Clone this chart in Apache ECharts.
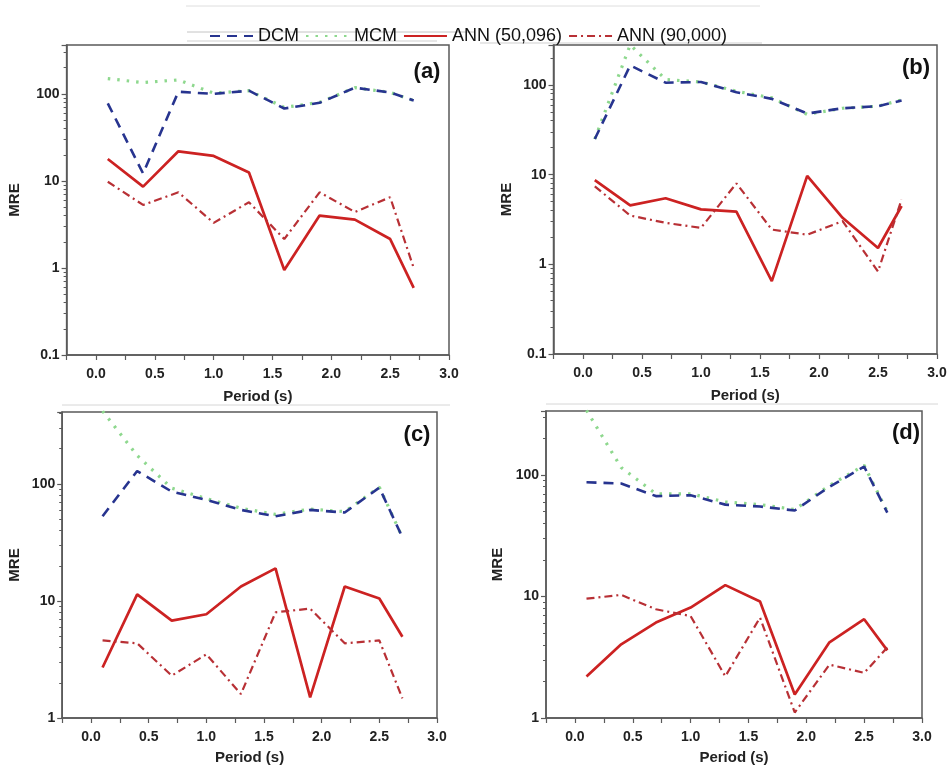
<!DOCTYPE html>
<html><head><meta charset="utf-8">
<script src="https://cdn.jsdelivr.net/npm/echarts@6/dist/echarts.min.js"></script>
<style>html,body{margin:0;padding:0;background:#fff}#c{width:950px;height:770px}</style>
</head><body><div id="c"></div><script>
// ---- data ----
const periods = [0.1, 0.4, 0.7, 1.0, 1.3, 1.6, 1.9, 2.2, 2.5, 2.7];
const seriesNames = ['DCM', 'MCM', 'ANN (50,096)', 'ANN (90,000)'];
const xTickLabels = ['0.0', '0.5', '1.0', '1.5', '2.0', '2.5', '3.0'];
const panelLabels = ['(a)', '(b)', '(c)', '(d)'];

const a_DCM  = [78, 12.2, 106, 100, 109, 68, 79, 118, 104, 84];
const a_MCM  = [150, 135, 145, 102, 109, 70, 80, 118, 104, 84];
const a_ANN1 = [17.9, 8.6, 21.9, 19.4, 12.5, 0.95, 4.0, 3.6, 2.15, 0.59];
const a_ANN2 = [9.8, 5.3, 7.4, 3.3, 5.7, 2.15, 7.4, 4.4, 6.5, 1.0];

const b_DCM  = [25, 165, 106, 108, 83, 70, 48, 55, 58, 67];
const b_MCM  = [25, 280, 115, 108, 85, 72, 47, 55, 58, 68];
const b_ANN1 = [8.7, 4.55, 5.45, 4.1, 3.86, 0.65, 9.7, 3.3, 1.52, 4.47];
const b_ANN2 = [7.4, 3.5, 2.9, 2.55, 8.0, 2.44, 2.14, 3.03, 0.83, 5.3];

const c_DCM  = [53, 129, 86, 73, 60, 53, 60, 57, 93, 35];
const c_MCM  = [420, 175, 92, 75, 62, 55, 61, 58, 94, 35];
const c_ANN1 = [2.7, 11.4, 6.8, 7.7, 13.3, 19, 1.5, 13.3, 10.5, 4.95];
const c_ANN2 = [4.6, 4.35, 2.3, 3.5, 1.6, 8.0, 8.6, 4.35, 4.6, 1.47];

const d_DCM  = [87, 85, 67, 68, 57, 55, 51, 80, 117, 49];
const d_MCM  = [340, 115, 70, 70, 60, 57, 52, 82, 120, 50];
const d_ANN1 = [2.2, 4.04, 6.1, 8.1, 12.4, 9.1, 1.56, 4.2, 6.5, 3.6];
const d_ANN2 = [9.6, 10.3, 7.85, 6.9, 2.2, 6.7, 1.11, 2.75, 2.35, 3.8];

// ---- layout ----
const panels = [
  {vals:[a_DCM, a_MCM, a_ANN1, a_ANN2], yMin:0.1, yMax:365, grid:{left:66.6, top:45, width:382.4, height:310}, yGap:44, xGap:34, lab:[427, 72]},
  {vals:[b_DCM, b_MCM, b_ANN1, b_ANN2], yMin:0.1, yMax:279, grid:{left:553.5, top:45, width:383.5, height:309}, yGap:39, xGap:34, lab:[916, 68]},
  {vals:[c_DCM, c_MCM, c_ANN1, c_ANN2], yMin:1, yMax:412, grid:{left:62.2, top:412, width:374.8, height:306}, yGap:40, xGap:32, lab:[417, 435]},
  {vals:[d_DCM, d_MCM, d_ANN1, d_ANN2], yMin:1, yMax:336, grid:{left:546, top:411, width:376, height:307}, yGap:40.5, xGap:32, lab:[906, 433]}
];

const styles = [
  {color:'#27348f', width:2.6, type:[10, 7], z:4},
  {color:'#8ed88e', width:3.2, type:[2.5, 7], z:3},
  {color:'#cc2222', width:2.7, type:'solid', z:5},
  {color:'#b83035', width:2.2, type:[8, 4, 2, 4], z:5}
];

const FONT = '"Liberation Sans", Arial, sans-serif';
const axisColor = '#5a5a5a';

const grids = [], xAxes = [], yAxes = [], series = [], graphics = [];
panels.forEach((p, i) => {
  grids.push(Object.assign({show:true, borderColor:axisColor, borderWidth:1.5, backgroundColor:'transparent'}, p.grid));
  xAxes.push({
    type:'value', gridIndex:i, min:-0.25, max:3.0, interval:0.25,
    name:'Period (s)', nameLocation:'middle', nameGap:p.xGap,
    nameTextStyle:{fontFamily:FONT, fontWeight:'bold', fontSize:15, color:'#222'},
    axisLine:{show:true, onZero:false, lineStyle:{color:axisColor, width:1.5}},
    axisTick:{show:true, inside:false, length:5, lineStyle:{color:axisColor, width:1.2}},
    splitLine:{show:false},
    axisLabel:{margin:12, fontFamily:FONT, fontWeight:'bold', fontSize:14, color:'#222',
      formatter:v => { const k = Math.round(v * 2); return (Math.abs(v * 2 - k) < 1e-6 && k >= 0) ? xTickLabels[k] : ''; }}
  });
  yAxes.push({
    type:'log', logBase:10, gridIndex:i, min:p.yMin, max:p.yMax,
    name:'MRE', nameLocation:'middle', nameGap:p.yGap, nameRotate:90,
    nameTextStyle:{fontFamily:FONT, fontWeight:'bold', fontSize:15, color:'#222'},
    axisLine:{show:true, onZero:false, lineStyle:{color:axisColor, width:1.5}},
    axisTick:{show:true, inside:false, length:5, lineStyle:{color:axisColor, width:1.2}},
    minorTick:{show:true, splitNumber:9, length:3, lineStyle:{color:axisColor, width:1}},
    splitLine:{show:false},
    axisLabel:{margin:7, fontFamily:FONT, fontWeight:'bold', fontSize:14, color:'#222', showMaxLabel:false,
      formatter:v => { const l = Math.log10(v); return Math.abs(l - Math.round(l)) < 1e-6 ? String(+v.toPrecision(3)) : ''; }}
  });
  p.vals.forEach((vals, s) => {
    const st = styles[s];
    series.push({
      name:seriesNames[s], type:'line', xAxisIndex:i, yAxisIndex:i,
      data:periods.map((x, k) => [x, vals[k]]),
      symbol:'none', smooth:false, z:st.z,
      lineStyle:{color:st.color, width:st.width, type:st.type, cap:'butt'},
      itemStyle:{color:st.color}
    });
  });
  graphics.push({type:'text', x:p.lab[0], y:p.lab[1], z:10,
    style:{text:panelLabels[i], fill:'#111', font:'bold 22px ' + FONT, textAlign:'center', textVerticalAlign:'middle'}});
});

// faint frame lines around the legend area and between panels
const frameLines = [
  [186, 6, 760, 6, '#dedede'],
  [187, 32, 475, 32, '#c4c4c4'],
  [187, 41, 437, 41, '#cfcfcf'],
  [480, 43, 762, 43, '#cfcfcf'],
  [62, 405, 450, 405, '#d6d6d6'],
  [546, 404, 938, 404, '#d6d6d6']
];
frameLines.forEach(l => graphics.push({type:'line', z:0, silent:true,
  shape:{x1:l[0], y1:l[1], x2:l[2], y2:l[3]}, style:{stroke:l[4], lineWidth:1}}));

const chart = echarts.init(document.getElementById('c'), null, {renderer:'canvas'});
chart.setOption({
  backgroundColor:'#fff',
  animation:false,
  legend:{
    data:seriesNames, left:209, top:27, padding:0, itemWidth:43, itemHeight:14, itemGap:6,
    itemStyle:{opacity:0},
    textStyle:{fontFamily:FONT, fontSize:18, color:'#111'}
  },
  grid:grids, xAxis:xAxes, yAxis:yAxes, series:series, graphic:graphics
});
</script></body></html>
